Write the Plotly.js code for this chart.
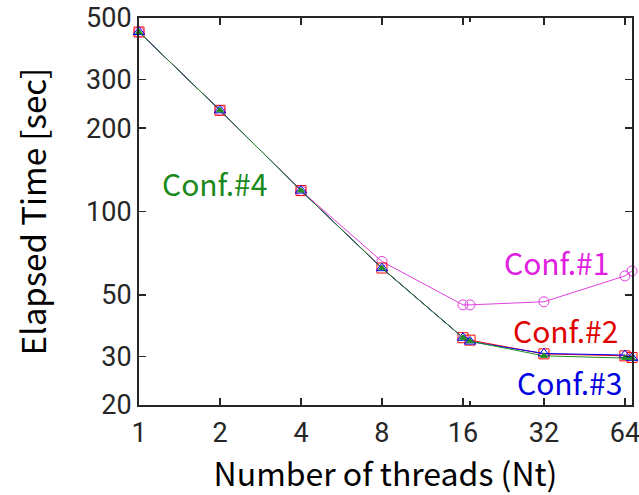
<!DOCTYPE html>
<html>
<head>
<meta charset="utf-8">
<script src="https://cdn.plot.ly/plotly-3.0.1.min.js"></script>
<style>html,body{margin:0;padding:0;background:#fff;}#chart{width:639px;height:495px;}</style>
</head>
<body>
<div id="chart"></div>
<script>
var threads = [1, 2, 4, 8, 16, 17, 32, 64, 68];
var conf1 = [445, 232, 119, 66.0, 46.0, 46.0, 47.2, 58.5, 61.0];
var conf2 = [445, 232, 119, 62.5, 35.0, 34.3, 30.6, 30.1, 29.7];
var conf3 = [445, 232, 119, 62.4, 35.0, 33.9, 30.7, 30.3, 29.6];
var conf4 = [445, 232, 119, 62.4, 35.0, 34.0, 30.1, 29.6, 29.5];
var xTicks = [1, 2, 4, 8, 16, 32, 64];
var xMinor = [17, 68];
var yTicks = [20, 30, 50, 100, 200, 300, 500];
var names = ['Conf.#1', 'Conf.#2', 'Conf.#3', 'Conf.#4'];
var colors = ['#E040E0', '#FF0000', '#0000FF', '#1E8F1E'];
var textColors = ['#E020E0', '#E00000', '#0000E0', '#1A8A1A'];
var symbols = ['circle-open', 'square-open', 'triangle-up-open', 'triangle-up'];
var sizes = [10, 10, 10, 6];
var series = [conf1, conf2, conf3, conf4];

var traces = series.map(function (s, i) {
  return {
    x: threads, y: s, type: 'scatter', mode: 'lines+markers', name: names[i],
    line: {color: colors[i], width: 1},
    marker: {symbol: symbols[i], size: sizes[i], color: colors[i], line: {color: colors[i], width: 1}},
    showlegend: false, cliponaxis: false
  };
});

var labelPos = [[0.846, 0.3695], [0.866, 0.194], [0.874, 0.0594], [0.154, 0.574]];
var annotations = names.map(function (n, i) {
  return {
    text: n, xref: 'paper', yref: 'paper', x: labelPos[i][0], y: labelPos[i][1],
    xanchor: 'center', yanchor: 'middle', showarrow: false,
    font: {family: 'Noto Sans CJK JP, Noto Sans, sans-serif', size: 30, color: textColors[i]}
  };
});

var axisCommon = {
  showgrid: false, zeroline: false, showline: true, linecolor: '#262626', linewidth: 2,
  mirror: 'ticks', ticks: 'inside', ticklen: 7, tickwidth: 1.5, tickcolor: '#262626',
  ticklabeloverflow: 'allow',
  tickfont: {family: 'Roboto, Liberation Sans, sans-serif', size: 27, color: '#262626'}
};

var layout = {
  width: 639, height: 495,
  margin: {l: 139, r: 7, t: 18, b: 90},
  paper_bgcolor: '#ffffff', plot_bgcolor: '#ffffff',
  xaxis: Object.assign({}, axisCommon, {
    type: 'log', range: [0, Math.log10(68)], tickmode: 'array', tickvals: xTicks,
    ticktext: xTicks.map(String), ticklabelstandoff: 3,
    minor: {tickmode: 'array', tickvals: xMinor, ticks: 'inside', ticklen: 4, tickcolor: '#262626', showgrid: false},
    title: {text: 'Number of threads (Nt)', standoff: 12,
      font: {family: 'Noto Sans CJK JP, Noto Sans, sans-serif', size: 32, color: '#000000'}}
  }),
  yaxis: Object.assign({}, axisCommon, {
    type: 'log', range: [Math.log10(20), Math.log10(500)], tickmode: 'array', tickvals: yTicks,
    ticktext: yTicks.map(String),
    title: {text: 'Elapsed Time [sec]', standoff: 30,
      font: {family: 'Noto Sans CJK JP, Noto Sans, sans-serif', size: 33, color: '#000000'}}
  }),
  annotations: annotations,
  showlegend: false
};

Plotly.newPlot('chart', traces, layout, {displayModeBar: false, staticPlot: true});
</script>
</body>
</html>
